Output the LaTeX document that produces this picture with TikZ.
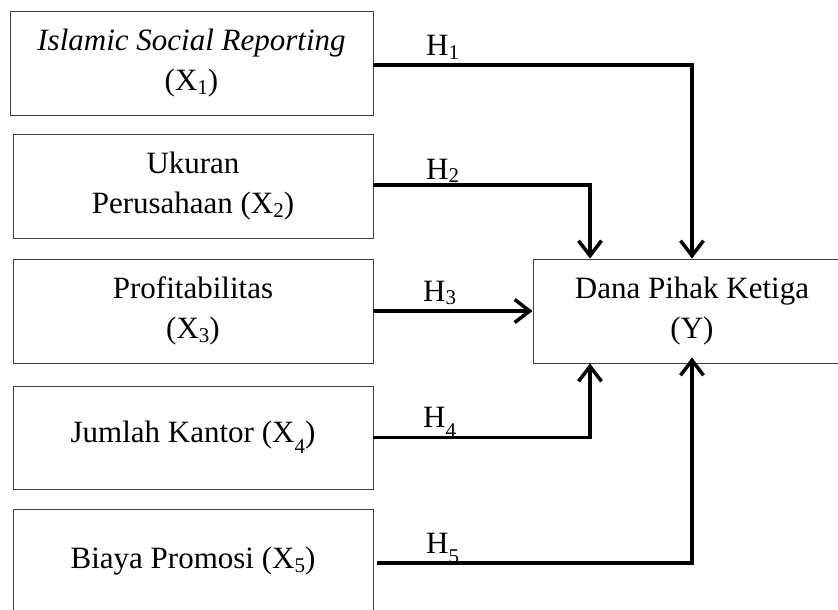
\documentclass[tikz,border=0pt]{standalone}
\usepackage{fontspec}
\setmainfont{Liberation Serif}
\usetikzlibrary{arrows.meta}
\newcommand\sbs[1]{\raisebox{-0.12em}{\fontsize{21}{21}\selectfont #1}}
\newcommand\lsbs[1]{\raisebox{-0.35em}{\fontsize{21}{21}\selectfont #1}}
\begin{document}
\begin{tikzpicture}[x=1pt,y=-1pt,
  var/.style={draw=black!75, line width=0.9pt, inner sep=0pt, align=center,
    font=\fontsize{31}{40}\selectfont, minimum height=104pt},
  lab/.style={inner sep=0pt, anchor=base west, font=\fontsize{31}{40}\selectfont},
  conn/.style={line width=3.5pt, -{Straight Barb[length=15pt,width=23pt]}}]
\useasboundingbox (0,0) rectangle (838,610);
\clip (0,0) rectangle (838,610);
\fill[white] (0,0) rectangle (838,610);
% variable boxes
\node[var, minimum width=363pt] (b1) at (191.5,63) {\textit{Islamic Social Reporting}\\(X\sbs{1})};
\node[var, minimum width=360pt] (b2) at (193,186) {Ukuran\\Perusahaan (X\sbs{2})};
\node[var, minimum width=360pt] (b3) at (193,311) {Profitabilitas\\(X\sbs{3})};
\node[var, minimum width=360pt, minimum height=103pt] (b4) at (193,437.5) {Jumlah Kantor (X\lsbs{4})};
\node[var, minimum width=360pt] (b5) at (193,561) {Biaya Promosi (X\sbs{5})};
\node[var, minimum width=318pt] (y) at (692,311) {Dana Pihak Ketiga\\(Y)};
% connectors
\draw[conn] ([yshift=-2pt]b1.east) -| (y.north);
\draw[conn] ([yshift=1pt]b2.east) -| ([xshift=-102pt]y.north);
\draw[conn] (b3.east) -- (y.west);
\draw[conn] (b4.east) -| ([xshift=-102pt]y.south);
\draw[conn] ([xshift=4pt,yshift=-2pt]b5.east) -| ([yshift=6pt]y.south);
% labels
\node[lab] (h1) at (426,56) {H\sbs{1}};
\node[lab] (h2) at (426,179) {H\sbs{2}};
\node[lab] (h3) at (423,301) {H\sbs{3}};
\node[lab] (h4) at (423,427) {H\lsbs{4}};
\node[lab] (h5) at (426,553) {H\lsbs{5}};
\end{tikzpicture}
\end{document}
